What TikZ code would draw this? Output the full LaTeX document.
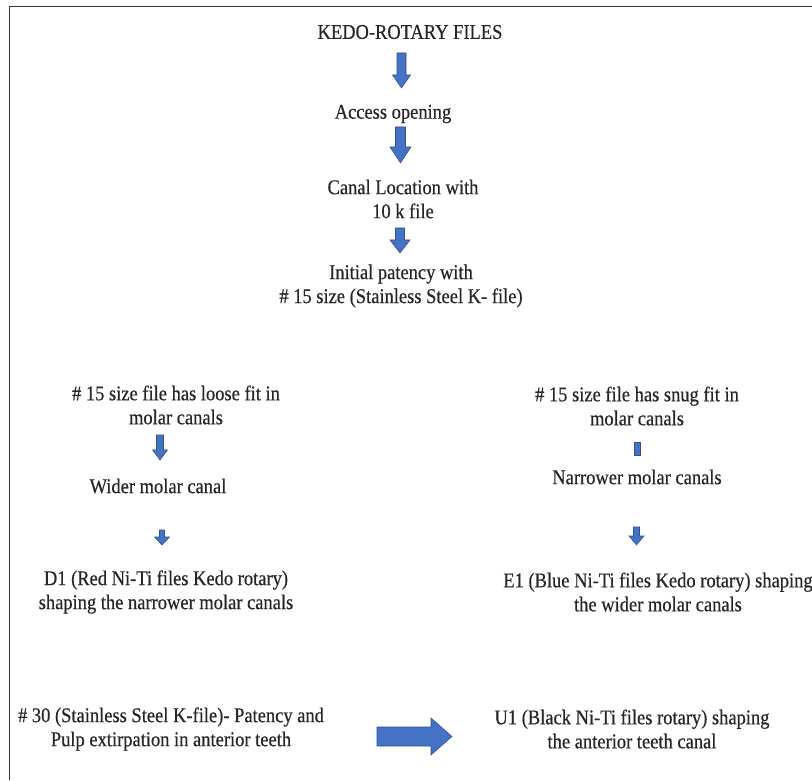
\documentclass[tikz,border=0pt]{standalone}
\usepackage{fontspec}
\setmainfont{Liberation Serif}[FakeStretch=0.88, FakeBold=0.4]
\definecolor{arrowfill}{HTML}{4472C4}
\definecolor{arrowline}{HTML}{2F528F}
\definecolor{txt}{HTML}{262626}
\newcommand\blkdown[6]{% cx, top, head start, tip, shaft width, head width
  \filldraw[blockarrow] (#1-#5/2,#2) -- (#1+#5/2,#2) -- (#1+#5/2,#3) -- (#1+#6/2,#3)
    -- (#1,#4) -- (#1-#6/2,#3) -- (#1-#5/2,#3) -- cycle;}
\tikzset{
  blockarrow/.style={fill=arrowfill, draw=arrowline, line width=0.4pt, line join=miter},
  lbl/.style={inner sep=0pt, align=center, text=txt,
    font=\fontsize{15.75pt}{18pt}\selectfont},
}
\begin{document}
\begin{tikzpicture}[x=0.75pt, y=-0.75pt]
\useasboundingbox (0,0) rectangle (812,780);
\fill[white] (0,0) rectangle (812,780);
% frame (only top and left edges are inside the picture)
\draw[line width=1.1pt, black!80] (9.5,780) -- (9.5,6.5) -- (812,6.5);

% main column
\node[lbl] (title)   at (410,32)  {KEDO-ROTARY FILES};
\node[lbl] (access)  at (393,114) {Access opening};
\node[lbl] (canal)   at (403,199) {Canal Location with\\10 k file};
\node[lbl] (patency) at (401,286) {Initial patency with\\\# 15 size (Stainless Steel K- file)};

\blkdown{401.5}{53}{75}{88}{9}{18}
\blkdown{400.5}{127}{147}{163}{10}{21}
\blkdown{400}{228}{240}{253}{9}{20}

% left branch
\node[lbl] (loose) at (176,405) {\# 15 size file has loose fit in\\molar canals};
\node[lbl] (wider) at (158,486) {Wider molar canal};
\node[lbl] (d1)    at (166,592) {D1 (Red Ni-Ti files Kedo rotary)\\shaping the narrower molar canals};
\blkdown{160}{435}{450}{460}{7}{15}
\blkdown{162}{530}{537}{545}{5}{15}

% right branch
\node[lbl] (snug)     at (637,406) {\# 15 size file has snug fit in\\molar canals};
\node[lbl] (narrower) at (637,477) {Narrower molar canals};
\node[lbl] (e1)       at (658,592) {E1 (Blue Ni-Ti files Kedo rotary) shaping\\the wider molar canals};
\filldraw[blockarrow] (634,442) rectangle (640,455);
\blkdown{636.5}{527}{536}{545}{6}{15}

% bottom row
\node[lbl] (k30) at (171,729) {\# 30 (Stainless Steel K-file)- Patency and\\Pulp extirpation in anterior teeth};
\node[lbl] (u1)  at (632,729) {U1 (Black Ni-Ti files rotary) shaping\\the anterior teeth canal};
\filldraw[blockarrow] (377,727) -- (431,727) -- (431,718) -- (452,736.5) -- (431,755)
  -- (431,746) -- (377,746) -- cycle;
\end{tikzpicture}
\end{document}
